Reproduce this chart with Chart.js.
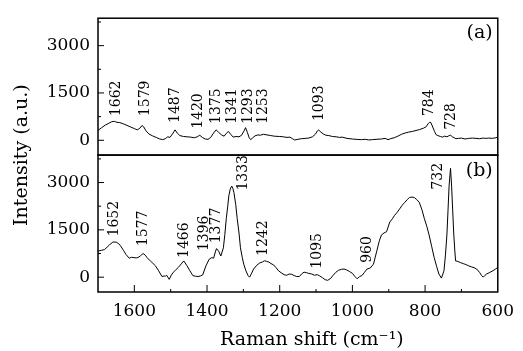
<!DOCTYPE html>
<html>
<head>
<meta charset="utf-8">
<script src="https://cdn.jsdelivr.net/npm/chart.js@4.4.1/dist/chart.umd.min.js"></script>
<style>
  html, body { margin: 0; padding: 0; background: #fff; }
  #wrap { width: 523px; height: 351px; }
</style>
</head>
<body>
<div id="wrap"><canvas id="raman"></canvas></div>
<script>
// spectrum (a)
var shiftA = [1700,1690,1680,1670,1662,1655,1648,1640,1630,1620,1610,1600,1592,1585,1579,1574,1568,1560,1550,1540,1530,1522,1515,1508,1502,1495,1488,1482,1475,1465,1455,1445,1435,1427,1420,1413,1405,1397,1390,1382,1375,1368,1360,1353,1347,1341,1335,1328,1320,1312,1305,1298,1294,1289,1284,1280,1274,1268,1260,1253,1245,1235,1225,1215,1200,1190,1180,1172,1165,1159,1150,1140,1130,1120,1110,1102,1096,1093,1088,1080,1073,1065,1055,1045,1035,1028,1015,1000,990,975,965,955,945,935,920,910,902,895,885,875,865,855,845,835,825,815,805,797,792,788,784,779,774,770,765,758,752,746,740,735,730,725,720,715,708,700,690,680,670,660,650,640,632,625,615,605,600];
var intensA = [310,400,480,540,590,600,570,560,520,470,420,370,330,380,470,420,300,200,140,90,40,20,50,110,90,200,330,230,150,120,110,100,80,110,160,90,40,30,90,230,330,250,170,130,220,280,190,100,120,110,160,300,400,250,80,20,80,140,170,160,190,170,150,130,120,110,90,100,50,10,30,50,60,70,110,190,300,330,270,200,160,150,120,110,90,100,60,40,30,20,30,10,20,30,40,60,20,50,80,130,190,230,260,280,310,340,380,430,520,570,560,420,280,180,150,120,100,130,110,140,160,110,80,50,60,70,40,60,70,60,50,70,60,70,60,80,100];

// spectrum (b)
var shiftB = [1700,1691,1682,1675,1668,1659,1650,1643,1637,1630,1623,1614,1608,1601,1595,1590,1583,1576,1570,1565,1556,1549,1542,1533,1524,1518,1515,1511,1504,1499,1493,1486,1479,1471,1464,1455,1447,1439,1432,1425,1418,1412,1403,1394,1387,1382,1377,1374,1368,1362,1355,1351,1347,1343,1340,1336,1332,1329,1326,1321,1317,1312,1308,1303,1299,1293,1287,1283,1277,1272,1263,1255,1248,1242,1236,1230,1224,1217,1210,1203,1196,1188,1181,1174,1167,1160,1153,1146,1140,1133,1126,1120,1112,1104,1097,1090,1082,1075,1068,1060,1053,1046,1038,1030,1023,1016,1008,1000,993,987,980,974,967,960,951,942,933,926,920,913,906,897,890,884,877,870,863,856,849,843,836,830,823,816,809,802,795,789,782,775,768,762,755,748,744,740,737,734,730,727,724,721,718,716,710,703,695,688,680,673,665,658,650,645,640,635,631,622,613,606,600];
var intensB = [825,850,876,950,1030,1113,1113,1060,980,850,720,600,630,620,610,620,680,750,700,620,515,440,360,200,20,40,30,60,-70,50,155,230,310,420,515,360,200,50,30,20,40,70,360,570,620,600,800,907,825,670,930,1350,1856,2250,2578,2800,2887,2820,2680,2300,1856,1400,930,620,412,200,50,0,130,258,380,450,480,520,500,480,430,390,300,200,140,80,60,100,90,50,20,20,100,160,140,120,100,60,80,40,-20,-80,-100,-40,60,150,220,250,260,230,180,120,20,-50,20,50,150,258,290,412,825,1150,1340,1400,1443,1750,1850,1960,2050,2165,2280,2370,2460,2526,2540,2526,2460,2371,2150,1856,1600,1340,980,620,330,100,-30,206,700,1340,2100,2887,3450,2887,2100,1340,800,515,500,464,430,400,360,330,300,258,150,60,0,60,100,150,206,260,310];

// peak labels: text, x where drawn, intensity of the label foot
var peaksA = ["1662","1579","1487","1420","1375","1341","1293","1253","1093","784","728"];
var peakXA = [1649,1571,1487,1424,1375,1330,1285,1245,1091,787,729];
var peakYA = [764,764,547,362,517,517,517,517,609,764,331];

var peaksB = ["1652","1577","1466","1396","1377","1333","1242","1095","960","732"];
var peakXB = [1654,1574,1462,1408,1373,1300,1245,1096,958,764];
var peakYB = [1290,980,609,826,1073,2744,671,269,455,2774];

var xTicks = [1600,1400,1200,1000,800,600];
var yTicks = [0,1500,3000];

var serif = "'DejaVu Serif', 'Liberation Serif', serif";

function toPoints(xs, ys) {
    var pts = [];
    for (var i = 0; i < xs.length; i++) pts.push({x: xs[i], y: ys[i]});
    return pts;
}

function fixTicks(list) {
    return function (scale) {
        scale.ticks = list.map(function (v) { return {value: v}; });
    };
}

function plain(v) { return String(v); }

// frame, inward ticks, peak labels, axis titles
var decorate = {
    id: 'decorate',
    afterDraw: function (chart) {
        var ctx = chart.ctx;
        var x = chart.scales.x;
        var panels = [chart.scales.ya, chart.scales.yb];
        ctx.save();
        ctx.strokeStyle = '#000';
        ctx.fillStyle = '#000';

        // ticks
        ctx.lineWidth = 1;
        ctx.beginPath();
        panels.forEach(function (s) {
            for (var v = -750; v <= 3750; v += 750) {
                var py = s.getPixelForValue(v);
                if (py < s.top + 1 || py > s.bottom - 1) continue;
                var len = (v % 1500 === 0) ? 6 : 3;
                ctx.moveTo(x.left, py);
                ctx.lineTo(x.left + len, py);
            }
        });
        var yb = chart.scales.yb;
        for (var w = 700; w <= 1600; w += 100) {
            var px = x.getPixelForValue(w);
            var l = (w % 200 === 0) ? 7 : 3;
            ctx.moveTo(px, yb.bottom);
            ctx.lineTo(px, yb.bottom - l);
        }
        ctx.stroke();

        // frames
        ctx.lineWidth = 1.5;
        panels.forEach(function (s) {
            ctx.strokeRect(x.left, s.top, x.right - x.left, s.bottom - s.top);
        });

        // peak labels
        ctx.font = '14px ' + serif;
        ctx.textAlign = 'left';
        ctx.textBaseline = 'middle';
        function labels(texts, xs, ys, s) {
            for (var i = 0; i < texts.length; i++) {
                ctx.save();
                ctx.translate(x.getPixelForValue(xs[i]), s.getPixelForValue(ys[i]));
                ctx.rotate(-Math.PI / 2);
                ctx.fillText(texts[i], 0, 0);
                ctx.restore();
            }
        }
        labels(peaksA, peakXA, peakYA, chart.scales.ya);
        labels(peaksB, peakXB, peakYB, chart.scales.yb);

        // panel tags
        ctx.font = '19px ' + serif;
        ctx.textAlign = 'right';
        ctx.fillText('(a)', x.right - 5, chart.scales.ya.top + 15);
        ctx.fillText('(b)', x.right - 5, chart.scales.yb.top + 16);

        // x title (sits a little right of centre in the original)
        ctx.textAlign = 'center';
        ctx.fillText('Raman shift (cm⁻¹)', (x.left + x.right) / 2 + 14, chart.height - 11);

        // shared y title
        ctx.translate(22, (chart.scales.ya.top + chart.scales.yb.bottom) / 2);
        ctx.rotate(-Math.PI / 2);
        ctx.fillText('Intensity (a.u.)', 0, 0);
        ctx.restore();
    }
};

var yScale = function () {
    return {
        type: 'linear',
        position: 'left',
        stack: 'panels',
        stackWeight: 1,
        min: -470,
        max: 3870,
        afterBuildTicks: fixTicks(yTicks),
        afterFit: function (s) { s.width = 98; },
        grid: { display: false, drawTicks: false },
        border: { display: false },
        ticks: { color: '#000', padding: 8, callback: plain, font: { family: serif, size: 17 } }
    };
};

new Chart(document.getElementById('raman'), {
    type: 'line',
    data: {
        datasets: [
            { data: toPoints(shiftA, intensA), yAxisID: 'ya', xAxisID: 'x' },
            { data: toPoints(shiftB, intensB), yAxisID: 'yb', xAxisID: 'x' }
        ]
    },
    options: {
        responsive: true,
        maintainAspectRatio: false,
        animation: false,
        events: [],
        layout: { padding: { left: 0, right: 17, top: 11, bottom: 0 } },
        elements: {
            point: { radius: 0 },
            line: { borderColor: '#000', borderWidth: 1, tension: 0 }
        },
        plugins: { legend: { display: false }, tooltip: { enabled: false } },
        scales: {
            x: {
                type: 'linear',
                reverse: true,
                min: 600,
                max: 1700,
                afterBuildTicks: fixTicks(xTicks),
                afterFit: function (s) { s.height = 59; },
                grid: { display: false, drawTicks: false },
                border: { display: false },
                ticks: { color: '#000', padding: 9, maxRotation: 0, callback: plain, font: { family: serif, size: 17 } }
            },
            // later scale in a left stack goes on top
            yb: yScale(),
            ya: yScale()
        }
    },
    plugins: [decorate]
});
</script>
</body>
</html>
